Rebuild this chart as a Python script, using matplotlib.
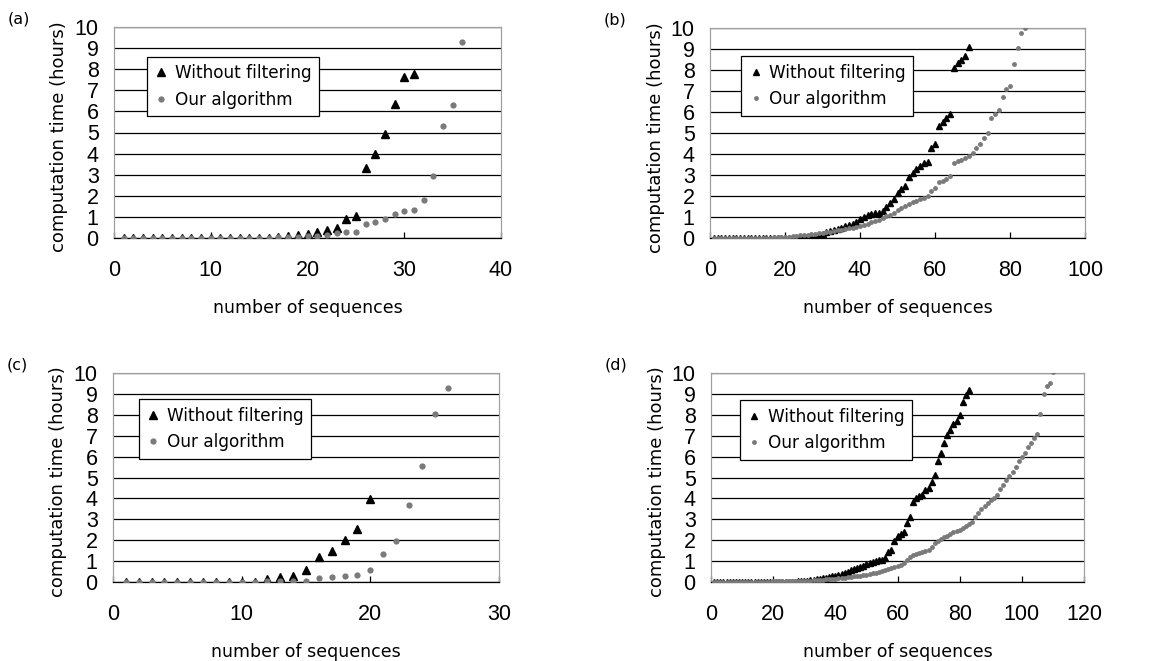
import matplotlib
matplotlib.use("Agg")
import matplotlib.pyplot as plt
import numpy as np

# ---- data ----
a_without = [0.02, 0.02, 0.02, 0.02, 0.02, 0.02, 0.02, 0.02, 0.02, 0.02,
             0.02, 0.02, 0.02, 0.02, 0.02, 0.02, 0.03, 0.09, 0.12, 0.20,
             0.29, 0.38, 0.49, 0.88, 1.03, 3.31, 3.98, 4.91, 6.33, 7.64, 7.75]
a_ours = [0.02, 0.02, 0.02, 0.02, 0.02, 0.02, 0.02, 0.02, 0.02, 0.02,
          0.02, 0.02, 0.02, 0.02, 0.02, 0.02, 0.03, 0.05, 0.06, 0.08,
          0.11, 0.16, 0.24, 0.28, 0.28, 0.66, 0.76, 0.91, 1.13, 1.30,
          1.32, 1.81, 2.96, 5.30, 6.28, 9.28]

b_without = [0.01, 0.01, 0.01, 0.01, 0.01, 0.01, 0.01, 0.01, 0.01, 0.01,
             0.01, 0.01, 0.01, 0.01, 0.01, 0.01, 0.01, 0.01, 0.01, 0.01,
             0.01, 0.02, 0.02, 0.03, 0.03, 0.04, 0.05, 0.06, 0.08, 0.20,
             0.28, 0.33, 0.38, 0.43, 0.48, 0.55, 0.62, 0.68, 0.78, 0.92,
             1.02, 1.10, 1.15, 1.18, 1.20, 1.27, 1.50, 1.67, 1.88, 2.12,
             2.31, 2.50, 2.91, 3.10, 3.28, 3.42, 3.55, 3.63, 4.27, 4.50,
             5.33, 5.53, 5.73, 5.92, 8.10, 8.35, 8.50, 8.65, 9.10]
b_ours = [0.01, 0.01, 0.01, 0.01, 0.01, 0.01, 0.01, 0.01, 0.01, 0.01,
          0.01, 0.01, 0.01, 0.01, 0.01, 0.02, 0.03, 0.03, 0.04, 0.05,
          0.06, 0.08, 0.10, 0.12, 0.14, 0.16, 0.18, 0.20, 0.22, 0.24,
          0.27, 0.30, 0.33, 0.36, 0.40, 0.43, 0.46, 0.50, 0.53, 0.58,
          0.62, 0.68, 0.75, 0.83, 0.88, 0.96, 1.07, 1.11, 1.19, 1.32,
          1.43, 1.51, 1.64, 1.70, 1.78, 1.86, 1.91, 1.99, 2.23, 2.39,
          2.66, 2.71, 2.79, 2.95, 3.58, 3.65, 3.72, 3.80, 3.90, 4.05,
          4.30, 4.50, 4.75, 4.98, 5.73, 5.90, 6.10, 6.70, 7.10, 7.25,
          8.30, 9.05, 9.75, 10.00]

c_without = [0.02, 0.02, 0.02, 0.02, 0.02, 0.02, 0.02, 0.02, 0.02, 0.02,
             0.02, 0.14, 0.24, 0.30, 0.59, 1.18, 1.47, 2.03, 2.54, 3.99]
c_ours = [0.02, 0.02, 0.02, 0.02, 0.02, 0.02, 0.02, 0.02, 0.02, 0.02,
          0.02, 0.03, 0.05, 0.05, 0.06, 0.19, 0.24, 0.30, 0.35, 0.59,
          1.36, 1.95, 3.70, 5.53, 8.04, 9.28]

d_without = [0.01, 0.01, 0.01, 0.01, 0.01, 0.01, 0.01, 0.01, 0.01, 0.01,
             0.01, 0.01, 0.01, 0.01, 0.01, 0.01, 0.01, 0.01, 0.01, 0.01,
             0.01, 0.01, 0.01, 0.01, 0.01, 0.02, 0.02, 0.03, 0.04, 0.05,
             0.06, 0.08, 0.10, 0.12, 0.14, 0.17, 0.20, 0.24, 0.27, 0.30,
             0.35, 0.40, 0.45, 0.50, 0.59, 0.62, 0.67, 0.72, 0.78, 0.86,
             0.91, 0.94, 0.99, 1.03, 1.07, 1.14, 1.43, 1.51, 1.94, 2.18,
             2.30, 2.38, 2.81, 3.13, 3.85, 4.00, 4.13, 4.17, 4.40, 4.48,
             4.80, 5.12, 5.79, 6.18, 6.63, 7.03, 7.27, 7.54, 7.71, 7.98,
             8.62, 8.93, 9.20]
d_ours = [0.01, 0.01, 0.01, 0.01, 0.01, 0.01, 0.01, 0.01, 0.01, 0.01,
          0.01, 0.01, 0.01, 0.01, 0.01, 0.02, 0.02, 0.02, 0.02, 0.03,
          0.03, 0.03, 0.03, 0.04, 0.04, 0.04, 0.05, 0.05, 0.05, 0.06,
          0.07, 0.07, 0.08, 0.09, 0.10, 0.11, 0.12, 0.13, 0.14, 0.15,
          0.17, 0.19, 0.21, 0.23, 0.25, 0.27, 0.29, 0.31, 0.33, 0.35,
          0.38, 0.41, 0.44, 0.48, 0.52, 0.56, 0.62, 0.65, 0.72, 0.75,
          0.83, 0.91, 1.03, 1.18, 1.27, 1.35, 1.38, 1.43, 1.48, 1.54,
          1.67, 1.86, 1.97, 2.05, 2.13, 2.21, 2.30, 2.37, 2.43, 2.50,
          2.58, 2.69, 2.78, 2.89, 3.13, 3.32, 3.50, 3.66, 3.80, 3.90,
          4.00, 4.17, 4.44, 4.64, 4.88, 5.09, 5.28, 5.52, 5.79, 5.96,
          6.18, 6.44, 6.63, 6.87, 7.07, 8.06, 9.01, 9.36, 9.52, 10.05]

panel_labels = ["(a)", "(b)", "(c)", "(d)"]
x_limits = [40, 100, 30, 120]
x_steps = [10, 20, 10, 20]
legend_names = ["Without filtering", "Our algorithm"]

series = [(a_without, a_ours), (b_without, b_ours),
          (c_without, c_ours), (d_without, d_ours)]

# axes boxes in figure pixels: left, top, right, bottom
W, H = 1172, 661
boxes = [(114, 27, 501, 238), (710, 28, 1085, 238),
         (113, 373, 499, 582), (711, 373, 1084, 582)]
leg_anchor = [(0.085, 0.86), (0.083, 0.866), (0.067, 0.876), (0.078, 0.871)]
mk_big = [True, False, True, False]

fig = plt.figure(figsize=(W / 100, H / 100), dpi=100)
tick_font = ['Liberation Sans', 'DejaVu Sans']

for i in range(4):
    l, t, r, b = boxes[i]
    ax = fig.add_axes([l / W, 1 - b / H, (r - l) / W, (b - t) / H])
    wo, ours = series[i]
    xs_wo = np.arange(1, len(wo) + 1)
    xs_ou = np.arange(1, len(ours) + 1)
    if mk_big[i]:
        ms_t, ms_c = 5.5, 4.5
    else:
        ms_t, ms_c = 4.5, 3.5
    ax.plot(xs_wo, wo, linestyle='none', marker='^', color='black',
            markersize=ms_t, label=legend_names[0], zorder=3)
    ax.plot(xs_ou, ours, linestyle='none', marker='o', color='#7a7a7a',
            markeredgewidth=0, markersize=ms_c, label=legend_names[1], zorder=3)

    ax.set_xlim(0, x_limits[i])
    ax.set_ylim(0, 10)
    ax.set_xticks(np.arange(0, x_limits[i] + 1, x_steps[i]))
    ax.set_yticks(np.arange(0, 11, 1))
    ax.yaxis.grid(True, color='black', linewidth=0.9)
    ax.set_axisbelow(True)
    for s in ['top', 'right', 'left']:
        ax.spines[s].set_color('#a0a0a0')
        ax.spines[s].set_linewidth(0.9)
    ax.spines['bottom'].set_color('black')
    ax.spines['bottom'].set_linewidth(0.9)
    ax.tick_params(axis='x', direction='in', length=4, width=0.9, pad=16)
    ax.tick_params(axis='y', length=0, pad=11)
    for lab in ax.get_xticklabels() + ax.get_yticklabels():
        lab.set_family(tick_font)
        lab.set_fontsize(15.5)

    ax.set_xlabel("number of sequences", fontsize=12.5)
    ax.set_ylabel("computation time (hours)", fontsize=13)
    ax.xaxis.set_label_coords(0.5, -0.29)
    ax.yaxis.set_label_coords(-0.12, 0.48)

    leg = ax.legend(loc='upper left', bbox_to_anchor=leg_anchor[i],
                    fancybox=False, framealpha=1, edgecolor='black',
                    fontsize=12.2, handlelength=0.8, handletextpad=0.4,
                    borderpad=0.45, labelspacing=0.5, borderaxespad=0)
    leg.get_frame().set_linewidth(0.9)

    fig.text((l - 106) / W, 1 - (t - 8) / H, panel_labels[i], fontsize=11.5,
             ha='left', va='center')

plt.savefig("out.png", dpi=100)
